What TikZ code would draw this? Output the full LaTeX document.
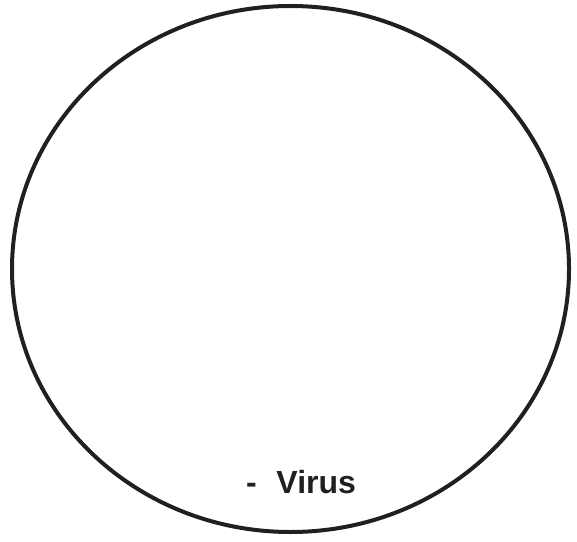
\documentclass[tikz,border=0pt]{standalone}
\usepackage{fontspec}
\setmainfont{Liberation Sans}
\definecolor{inkblack}{HTML}{231F20}

\begin{document}
\begin{tikzpicture}[x=1pt,y=1pt,line cap=round]
  \useasboundingbox (0,0) rectangle (577,541);
  \draw[inkblack,line width=4pt] (290.5,272) ellipse (278.5 and 263);
  \node[anchor=base,inkblack,font=\bfseries\fontsize{32}{36}\selectfont,
    inner sep=0pt] (lbl) at (301,48) {-\hspace{0.62em}Virus};
\end{tikzpicture}
\end{document}
